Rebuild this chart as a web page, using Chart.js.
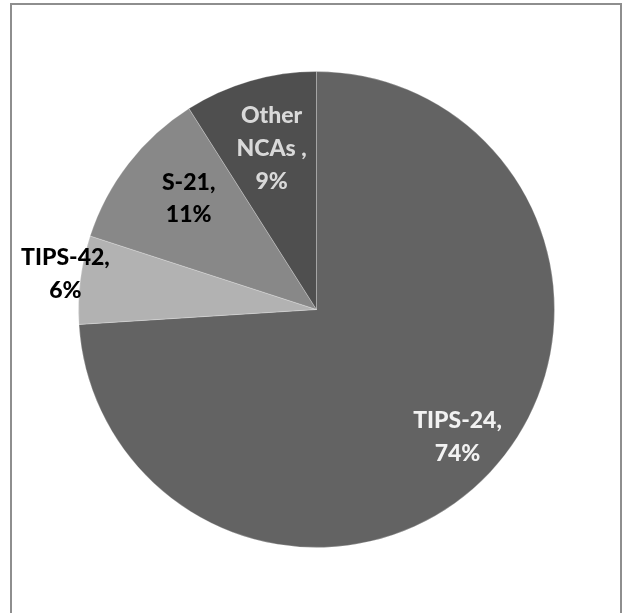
<!DOCTYPE html>
<html lang="en">
<head>
    <meta charset="UTF-8">
    <title>NCA share</title>
    <script src="https://cdn.jsdelivr.net/npm/chart.js"></script>
    <style>
        body {
            margin: 0;
            padding: 0;
            background: #ffffff;
            width: 626px;
            height: 613px;
            overflow: hidden;
            position: relative;
        }

        .frame {
            position: absolute;
            left: 10px;
            top: 3px;
            width: 612px;
            height: 700px;
            border: 2px solid #8e8e8e;
            box-sizing: border-box;
        }

        canvas {
            position: absolute;
            left: 0;
            top: 0;
        }
    </style>
</head>
<body>
    <div class="frame"></div>
    <canvas id="pieChart" width="626" height="613"></canvas>

    <script>
        const categories = ["TIPS-24", "TIPS-42", "S-21", "Other NCAs "];
        const shares = [74, 6, 11, 9];
        const sliceColors = ["#636363", "#b2b2b2", "#888888", "#4f4f4f"];

        // label look and placement: distance from centre as a share of the radius, small angle nudge in degrees
        const labelColors = ["#f2f2f2", "#000000", "#000000", "#d9d9d9"];
        const labelDistance = [0.796, 1.066, 0.714, 0.706];
        const labelNudge = [-1.3, 1.1, 3.4, 0.7];

        function labelLines(i) {
            const name = categories[i];
            if (name.startsWith("Other")) {
                return ["Other", "NCAs ,", shares[i] + "%"];
            }
            return [name + ",", shares[i] + "%"];
        }

        const sliceLabels = {
            id: "sliceLabels",
            afterDatasetsDraw(chart) {
                const ctx = chart.ctx;
                const arcs = chart.getDatasetMeta(0).data;
                ctx.save();
                ctx.font = "900 23px Lato";
                ctx.textAlign = "center";
                ctx.textBaseline = "middle";
                arcs.forEach((arc, i) => {
                    const mid = (arc.startAngle + arc.endAngle) / 2 + labelNudge[i] * Math.PI / 180;
                    const dist = arc.outerRadius * labelDistance[i];
                    const cx = arc.x + Math.cos(mid) * dist;
                    const cy = arc.y + Math.sin(mid) * dist;
                    const lines = labelLines(i);
                    const step = 32.7;
                    ctx.fillStyle = labelColors[i];
                    lines.forEach((line, k) => {
                        const y = cy + (k - (lines.length - 1) / 2) * step;
                        ctx.fillText(line, cx, y + 1);
                    });
                });
                ctx.restore();
            }
        };

        new Chart(document.getElementById("pieChart"), {
            type: "pie",
            data: {
                labels: categories,
                datasets: [{
                    data: shares,
                    backgroundColor: sliceColors,
                    borderColor: "rgba(255, 255, 255, 0.25)",
                    borderWidth: 1,
                }],
            },
            options: {
                responsive: false,
                animation: false,
                events: [],
                layout: {
                    padding: { top: 71, bottom: 65, left: 78, right: 71 },
                },
                plugins: {
                    legend: { display: false },
                    tooltip: { enabled: false },
                },
            },
            plugins: [sliceLabels],
        });
    </script>
</body>
</html>
